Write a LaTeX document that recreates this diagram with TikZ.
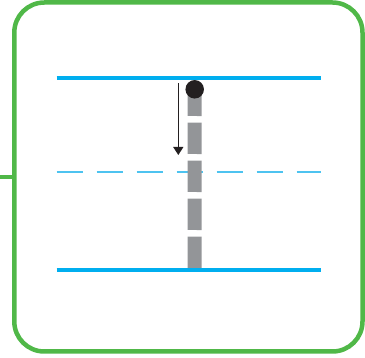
\documentclass[tikz,border=0pt]{standalone}
\usepackage{xcolor}
\definecolor{fGreen}{HTML}{50B848}
\definecolor{fBlue}{HTML}{00AEEF}
\definecolor{fBlueLight}{HTML}{4DC3F0}
\definecolor{fGray}{HTML}{939598}
\definecolor{fDark}{HTML}{231F20}
\usetikzlibrary{arrows.meta, positioning}

\begin{document}
\begin{tikzpicture}[
  x=1pt, y=-1pt,
  frame/.style={draw=fGreen, line width=4.5pt, rounded corners=30pt},
  level/.style={draw=fBlue, line width=4pt},
  midlevel/.style={draw=fBlueLight, line width=1.8pt, dash pattern=on 26.7pt off 13.3pt},
  rope/.style={draw=fGray, line width=14pt, dash pattern=on 31.3pt off 6.7pt},
  bob/.style={circle, fill=fDark, inner sep=0pt, minimum size=18.5pt},
  motion/.style={draw=fDark, line width=1.3pt, -{Triangle[length=8pt, width=10pt]}}
]
\useasboundingbox (0,0) rectangle (365,358);

\draw[frame] (14.3,2.5) rectangle (362.5,351.5);
\coordinate (stubL) at (0,177);
\coordinate (stubR) at (14.3,177);
\draw[draw=fGreen, line width=4.5pt] (stubL) -- (stubR);

\coordinate (topL) at (56.7,78.3);
\coordinate (topR) at (321,78.3);
\coordinate (midL) at (56.7,171.7);
\coordinate (midR) at (321,171.7);
\coordinate (botL) at (56.7,270);
\coordinate (botR) at (321,270);

\draw[midlevel] (midL) -- (midR);

\coordinate (ropeEnd) at (194.5,268);
\coordinate (pivot) at (194.7,89.3);
\draw[rope] (ropeEnd) -- (pivot);
\node[bob] (ball) at (pivot) {};

\draw[level] (topL) -- (topR);
\draw[level] (botL) -- (botR);

\coordinate (arrowA) at (178.3,83.3);
\coordinate (arrowB) at (178.3,155);
\draw[motion] (arrowA) -- (arrowB);
\end{tikzpicture}
\end{document}
